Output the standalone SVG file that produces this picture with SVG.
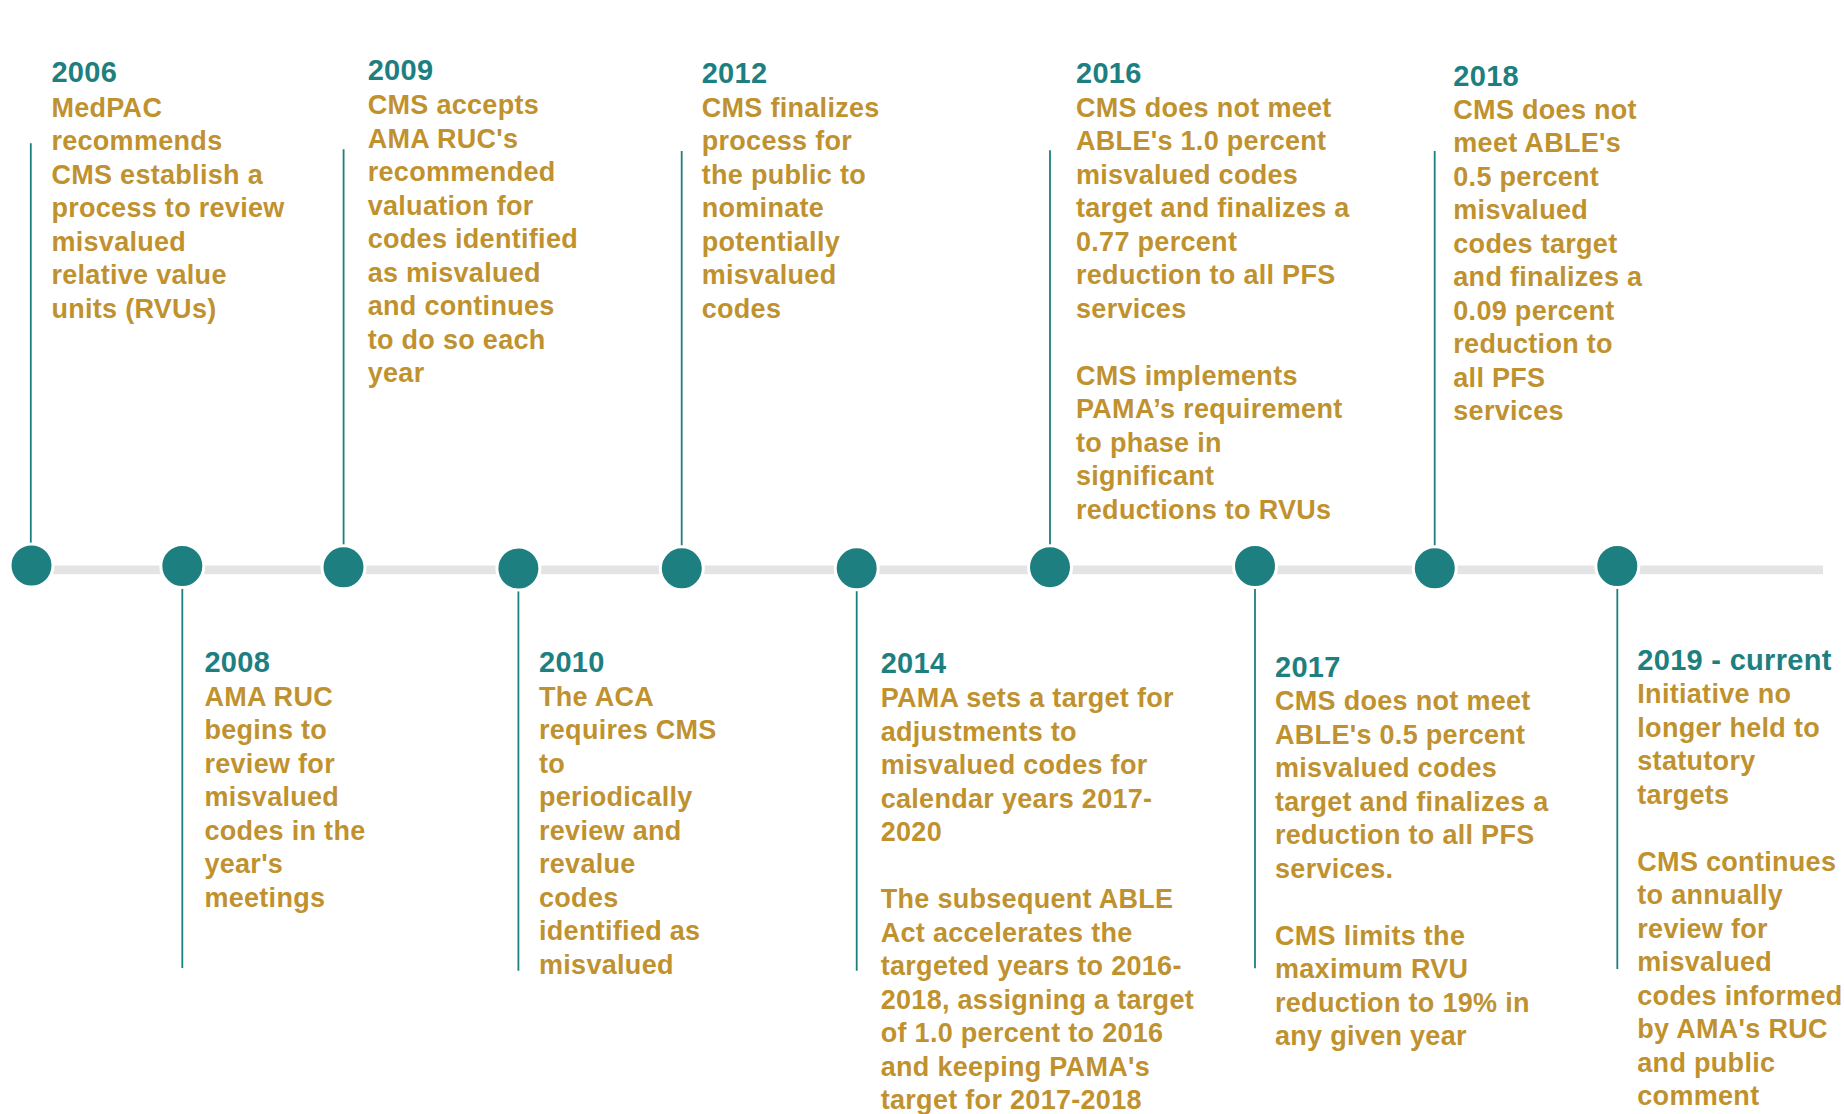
<svg xmlns="http://www.w3.org/2000/svg" width="1844" height="1114" viewBox="0 0 1844 1114">
  <style>
    text { font-family: "Liberation Sans", Arial, sans-serif; font-weight: bold; font-size: 27px; letter-spacing: 0.3px; }
    .yr { fill: #1e7f80; font-size: 29px; }
    .tx { fill: #bf922f; }
    .dot { fill: #1e7f80; stroke: #ffffff; stroke-width: 3; }
    .stem { stroke: #1e7f80; stroke-width: 1.8; fill: none; }
    .bar { fill: #e4e4e4; }
  </style>

  <rect width="1844" height="1114" fill="#ffffff"/>

  <!-- timeline bar and stems -->
  <g id="connectors">
    <rect class="bar" x="31" y="565.5" width="1792" height="8.7"/>
    <line class="stem" x1="30.8" y1="143.3" x2="30.8" y2="560"/>
    <line class="stem" x1="182.3" y1="570" x2="182.3" y2="968"/>
    <line class="stem" x1="343.6" y1="149.3" x2="343.6" y2="560"/>
    <line class="stem" x1="518.4" y1="570" x2="518.4" y2="970.7"/>
    <line class="stem" x1="681.7" y1="150.9" x2="681.7" y2="560"/>
    <line class="stem" x1="856.7" y1="570" x2="856.7" y2="970.7"/>
    <line class="stem" x1="1050" y1="150.2" x2="1050" y2="560"/>
    <line class="stem" x1="1255" y1="570" x2="1255" y2="968.3"/>
    <line class="stem" x1="1434.7" y1="150.9" x2="1434.7" y2="560"/>
    <line class="stem" x1="1617.3" y1="570" x2="1617.3" y2="968.9"/>
  </g>

  <g id="m2006">
    <circle class="dot" cx="31.5" cy="565.5" r="21.5"/>
    <text x="51.4" y="82"><tspan class="yr">2006</tspan><tspan class="tx" x="51.4" dy="34.5">MedPAC</tspan><tspan class="tx" x="51.4" dy="33.5">recommends</tspan><tspan class="tx" x="51.4" dy="33.5">CMS establish a</tspan><tspan class="tx" x="51.4" dy="33.5">process to review</tspan><tspan class="tx" x="51.4" dy="33.5">misvalued</tspan><tspan class="tx" x="51.4" dy="33.5">relative value</tspan><tspan class="tx" x="51.4" dy="33.5">units (RVUs)</tspan></text>
  </g>

  <g id="m2008">
    <circle class="dot" cx="182.3" cy="566" r="21.5"/>
    <text x="204.4" y="671.5"><tspan class="yr">2008</tspan><tspan class="tx" x="204.4" dy="34">AMA RUC</tspan><tspan class="tx" x="204.4" dy="33.5">begins to</tspan><tspan class="tx" x="204.4" dy="33.5">review for</tspan><tspan class="tx" x="204.4" dy="33.5">misvalued</tspan><tspan class="tx" x="204.4" dy="33.5">codes in the</tspan><tspan class="tx" x="204.4" dy="33.5">year's</tspan><tspan class="tx" x="204.4" dy="33.5">meetings</tspan></text>
  </g>

  <g id="m2009">
    <circle class="dot" cx="343.5" cy="567.3" r="21.5"/>
    <text x="367.7" y="80"><tspan class="yr">2009</tspan><tspan class="tx" x="367.7" dy="34">CMS accepts</tspan><tspan class="tx" x="367.7" dy="33.5">AMA RUC's</tspan><tspan class="tx" x="367.7" dy="33.5">recommended</tspan><tspan class="tx" x="367.7" dy="33.5">valuation for</tspan><tspan class="tx" x="367.7" dy="33.5">codes identified</tspan><tspan class="tx" x="367.7" dy="33.5">as misvalued</tspan><tspan class="tx" x="367.7" dy="33.5">and continues</tspan><tspan class="tx" x="367.7" dy="33.5">to do so each</tspan><tspan class="tx" x="367.7" dy="33.5">year</tspan></text>
  </g>

  <g id="m2010">
    <circle class="dot" cx="518.4" cy="568.5" r="21.5"/>
    <text x="539" y="671.7"><tspan class="yr">2010</tspan><tspan class="tx" x="539" dy="34">The ACA</tspan><tspan class="tx" x="539" dy="33.5">requires CMS</tspan><tspan class="tx" x="539" dy="33.5">to</tspan><tspan class="tx" x="539" dy="33.5">periodically</tspan><tspan class="tx" x="539" dy="33.5">review and</tspan><tspan class="tx" x="539" dy="33.5">revalue</tspan><tspan class="tx" x="539" dy="33.5">codes</tspan><tspan class="tx" x="539" dy="33.5">identified as</tspan><tspan class="tx" x="539" dy="33.5">misvalued</tspan></text>
  </g>

  <g id="m2012">
    <circle class="dot" cx="681.8" cy="568.3" r="21.5"/>
    <text x="701.7" y="83"><tspan class="yr">2012</tspan><tspan class="tx" x="701.7" dy="33.5">CMS finalizes</tspan><tspan class="tx" x="701.7" dy="33.5">process for</tspan><tspan class="tx" x="701.7" dy="33.5">the public to</tspan><tspan class="tx" x="701.7" dy="33.5">nominate</tspan><tspan class="tx" x="701.7" dy="33.5">potentially</tspan><tspan class="tx" x="701.7" dy="33.5">misvalued</tspan><tspan class="tx" x="701.7" dy="33.5">codes</tspan></text>
  </g>

  <g id="m2014">
    <circle class="dot" cx="856.7" cy="568.3" r="21.5"/>
    <text x="880.7" y="672.7"><tspan class="yr">2014</tspan><tspan class="tx" x="880.7" dy="34.5">PAMA sets a target for</tspan><tspan class="tx" x="880.7" dy="33.5">adjustments to</tspan><tspan class="tx" x="880.7" dy="33.5">misvalued codes for</tspan><tspan class="tx" x="880.7" dy="33.5">calendar years 2017-</tspan><tspan class="tx" x="880.7" dy="33.5">2020</tspan><tspan class="tx" x="880.7" dy="67">The subsequent ABLE</tspan><tspan class="tx" x="880.7" dy="33.5">Act accelerates the</tspan><tspan class="tx" x="880.7" dy="33.5">targeted years to 2016-</tspan><tspan class="tx" x="880.7" dy="33.5">2018, assigning a target</tspan><tspan class="tx" x="880.7" dy="33.5">of 1.0 percent to 2016</tspan><tspan class="tx" x="880.7" dy="33.5">and keeping PAMA's</tspan><tspan class="tx" x="880.7" dy="33.5">target for 2017-2018</tspan></text>
  </g>

  <g id="m2016">
    <circle class="dot" cx="1050" cy="567.2" r="21.5"/>
    <text x="1076" y="83"><tspan class="yr">2016</tspan><tspan class="tx" x="1076" dy="33.5">CMS does not meet</tspan><tspan class="tx" x="1076" dy="33.5">ABLE's 1.0 percent</tspan><tspan class="tx" x="1076" dy="33.5">misvalued codes</tspan><tspan class="tx" x="1076" dy="33.5">target and finalizes a</tspan><tspan class="tx" x="1076" dy="33.5">0.77 percent</tspan><tspan class="tx" x="1076" dy="33.5">reduction to all PFS</tspan><tspan class="tx" x="1076" dy="33.5">services</tspan><tspan class="tx" x="1076" dy="67.4">CMS implements</tspan><tspan class="tx" x="1076" dy="33.5">PAMA’s requirement</tspan><tspan class="tx" x="1076" dy="33.5">to phase in</tspan><tspan class="tx" x="1076" dy="33.5">significant</tspan><tspan class="tx" x="1076" dy="33.5">reductions to RVUs</tspan></text>
  </g>

  <g id="m2017">
    <circle class="dot" cx="1255" cy="566" r="21.5"/>
    <text x="1275" y="676.7"><tspan class="yr">2017</tspan><tspan class="tx" x="1275" dy="33.5">CMS does not meet</tspan><tspan class="tx" x="1275" dy="33.5">ABLE's 0.5 percent</tspan><tspan class="tx" x="1275" dy="33.5">misvalued codes</tspan><tspan class="tx" x="1275" dy="33.5">target and finalizes a</tspan><tspan class="tx" x="1275" dy="33.5">reduction to all PFS</tspan><tspan class="tx" x="1275" dy="33.5">services.</tspan><tspan class="tx" x="1275" dy="67">CMS limits the</tspan><tspan class="tx" x="1275" dy="33.5">maximum RVU</tspan><tspan class="tx" x="1275" dy="33.5">reduction to 19% in</tspan><tspan class="tx" x="1275" dy="33.5">any given year</tspan></text>
  </g>

  <g id="m2018">
    <circle class="dot" cx="1434.8" cy="568.3" r="21.5"/>
    <text x="1453.3" y="85.5"><tspan class="yr">2018</tspan><tspan class="tx" x="1453.3" dy="33.2">CMS does not</tspan><tspan class="tx" x="1453.3" dy="33.5">meet ABLE's</tspan><tspan class="tx" x="1453.3" dy="33.5">0.5 percent</tspan><tspan class="tx" x="1453.3" dy="33.5">misvalued</tspan><tspan class="tx" x="1453.3" dy="33.5">codes target</tspan><tspan class="tx" x="1453.3" dy="33.5">and finalizes a</tspan><tspan class="tx" x="1453.3" dy="33.5">0.09 percent</tspan><tspan class="tx" x="1453.3" dy="33.5">reduction to</tspan><tspan class="tx" x="1453.3" dy="33.5">all PFS</tspan><tspan class="tx" x="1453.3" dy="33.5">services</tspan></text>
  </g>

  <g id="m2019">
    <circle class="dot" cx="1617.3" cy="566" r="21.5"/>
    <text x="1637.3" y="670"><tspan class="yr">2019 - current</tspan><tspan class="tx" x="1637.3" dy="33.4">Initiative no</tspan><tspan class="tx" x="1637.3" dy="33.5">longer held to</tspan><tspan class="tx" x="1637.3" dy="33.5">statutory</tspan><tspan class="tx" x="1637.3" dy="33.5">targets</tspan><tspan class="tx" x="1637.3" dy="67">CMS continues</tspan><tspan class="tx" x="1637.3" dy="33.5">to annually</tspan><tspan class="tx" x="1637.3" dy="33.5">review for</tspan><tspan class="tx" x="1637.3" dy="33.5">misvalued</tspan><tspan class="tx" x="1637.3" dy="33.5">codes informed</tspan><tspan class="tx" x="1637.3" dy="33.5">by AMA's RUC</tspan><tspan class="tx" x="1637.3" dy="33.5">and public</tspan><tspan class="tx" x="1637.3" dy="33.5">comment</tspan></text>
  </g>
</svg>
